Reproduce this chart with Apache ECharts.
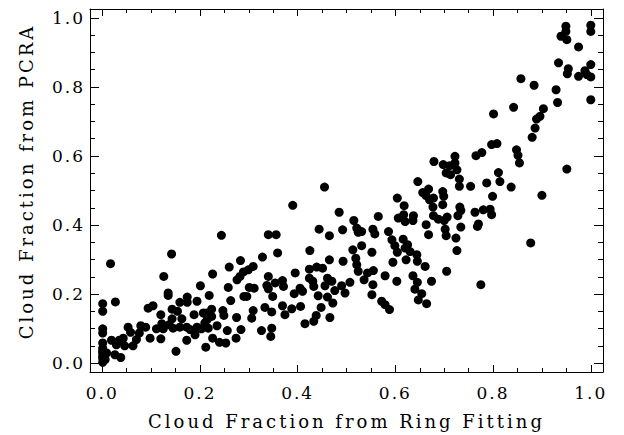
<!DOCTYPE html>
<html>
<head>
<meta charset="utf-8">
<script src="https://cdn.jsdelivr.net/npm/echarts@6/dist/echarts.min.js"></script>
<style>
html, body { margin: 0; padding: 0; background: #fff; }
#chart { width: 624px; height: 435px; }
#chart text { letter-spacing: 2px !important; }
#chart text[style*="18px"] { letter-spacing: 3px !important; }
</style>
</head>
<body>
<div id="chart"></div>
<script>
// [ring fitting, PCRA] pairs, grouped by ring-fitting cloud fraction
const lowCloud = [
  [0.142,0.316],[0.017,0.288],[0.126,0.251],[0.226,0.258],[0.135,0.203],[0.135,0.196],[0.201,0.224],[0.219,0.196],
  [0.001,0.172],[0.001,0.150],[0.027,0.177],[0.094,0.159],[0.104,0.166],[0.159,0.176],[0.174,0.191],[0.174,0.176],
  [0.194,0.179],[0.120,0.140],[0.143,0.156],[0.154,0.150],[0.163,0.128],[0.143,0.128],[0.188,0.140],[0.207,0.145],
  [0.224,0.156],[0.224,0.135],[0.215,0.126],[0.001,0.099],[0.001,0.087],[0.001,0.058],[0.001,0.043],[0.001,0.029],
  [0.001,0.014],[0.001,0.002],[0.009,0.029],[0.019,0.066],[0.029,0.053],[0.026,0.024],[0.038,0.016],[0.035,0.066],
  [0.043,0.072],[0.046,0.050],[0.053,0.104],[0.058,0.089],[0.063,0.050],[0.070,0.068],[0.076,0.087],[0.079,0.108],
  [0.089,0.104],[0.098,0.072],[0.111,0.099],[0.120,0.070],[0.125,0.099],[0.122,0.114],[0.137,0.111],[0.145,0.101],
  [0.151,0.034],[0.159,0.104],[0.173,0.104],[0.173,0.066],[0.180,0.097],[0.190,0.082],[0.194,0.104],[0.203,0.099],
  [0.210,0.116],[0.212,0.046],[0.217,0.101],[0.226,0.072],[0.235,0.108],[0.240,0.060],[0.001,0.035],[0.001,0.020],
  [0.003,0.008],[0.006,0.010],[0.244,0.370],[0.214,0.145],[0.247,0.152],[0.249,0.138]
];
const lowMidCloud = [
  [0.340,0.372],[0.356,0.372],[0.359,0.319],[0.328,0.307],[0.283,0.297],[0.260,0.278],[0.309,0.280],[0.299,0.270],
  [0.289,0.264],[0.282,0.251],[0.276,0.241],[0.258,0.219],[0.340,0.251],[0.301,0.219],[0.311,0.217],[0.296,0.193],
  [0.290,0.193],[0.337,0.225],[0.354,0.232],[0.369,0.239],[0.371,0.222],[0.340,0.215],[0.349,0.193],[0.263,0.181],
  [0.275,0.132],[0.309,0.152],[0.306,0.130],[0.333,0.161],[0.347,0.148],[0.369,0.166],[0.374,0.140],[0.256,0.094],
  [0.284,0.097],[0.326,0.094],[0.347,0.101],[0.345,0.077],[0.274,0.072],[0.253,0.058]
];
const midCloud = [
  [0.455,0.510],[0.390,0.457],[0.485,0.437],[0.565,0.425],[0.515,0.413],[0.521,0.391],[0.524,0.379],[0.531,0.381],
  [0.554,0.388],[0.558,0.374],[0.444,0.388],[0.465,0.369],[0.492,0.386],[0.586,0.381],[0.425,0.326],[0.513,0.328],
  [0.531,0.340],[0.552,0.321],[0.519,0.304],[0.521,0.285],[0.524,0.266],[0.465,0.299],[0.493,0.295],[0.424,0.272],
  [0.439,0.278],[0.451,0.275],[0.395,0.261],[0.424,0.246],[0.431,0.237],[0.433,0.222],[0.461,0.246],[0.470,0.237],
  [0.456,0.224],[0.476,0.210],[0.490,0.224],[0.497,0.203],[0.507,0.234],[0.536,0.241],[0.543,0.261],[0.555,0.268],
  [0.554,0.227],[0.552,0.198],[0.579,0.253],[0.405,0.217],[0.410,0.208],[0.393,0.201],[0.442,0.195],[0.461,0.191],
  [0.472,0.174],[0.388,0.157],[0.406,0.164],[0.448,0.161],[0.572,0.179],[0.579,0.169],[0.588,0.155],[0.438,0.138],
  [0.433,0.121],[0.415,0.114],[0.466,0.132]
];
const midHighCloud = [
  [0.797,0.633],[0.808,0.636],[0.777,0.610],[0.765,0.601],[0.722,0.599],[0.679,0.584],[0.698,0.575],[0.711,0.572],
  [0.722,0.580],[0.726,0.560],[0.704,0.551],[0.713,0.546],[0.731,0.533],[0.731,0.512],[0.754,0.512],[0.787,0.522],
  [0.811,0.552],[0.814,0.526],[0.799,0.483],[0.646,0.526],[0.656,0.494],[0.668,0.504],[0.663,0.485],[0.670,0.473],
  [0.678,0.478],[0.697,0.497],[0.699,0.483],[0.677,0.452],[0.697,0.459],[0.604,0.478],[0.618,0.456],[0.617,0.430],
  [0.606,0.420],[0.620,0.410],[0.637,0.427],[0.636,0.413],[0.678,0.427],[0.688,0.417],[0.700,0.413],[0.706,0.423],
  [0.732,0.452],[0.734,0.442],[0.728,0.427],[0.763,0.437],[0.780,0.444],[0.794,0.446],[0.797,0.430],[0.770,0.403],
  [0.768,0.396],[0.663,0.401],[0.668,0.372],[0.702,0.388],[0.704,0.369],[0.734,0.394],[0.724,0.362],[0.726,0.326],
  [0.593,0.357],[0.599,0.340],[0.616,0.359],[0.625,0.343],[0.620,0.333],[0.630,0.323],[0.604,0.321],[0.644,0.314],
  [0.645,0.295],[0.622,0.299],[0.595,0.292],[0.661,0.280],[0.705,0.266],[0.636,0.253],[0.603,0.237],[0.645,0.234],
  [0.640,0.214],[0.674,0.237],[0.654,0.201],[0.647,0.183],[0.664,0.172],[0.775,0.227]
];
const highCloud = [
  [0.949,0.976],[0.949,0.961],[1.000,0.979],[1.000,0.961],[0.939,0.947],[0.951,0.937],[0.975,0.916],[0.934,0.870],
  [0.954,0.853],[0.952,0.838],[1.000,0.865],[0.988,0.847],[0.992,0.836],[1.000,0.829],[0.975,0.831],[0.857,0.824],
  [0.884,0.805],[0.929,0.792],[0.932,0.755],[1.000,0.763],[0.842,0.741],[0.801,0.722],[0.903,0.737],[0.896,0.715],
  [0.889,0.707],[0.886,0.681],[0.880,0.654],[0.848,0.618],[0.851,0.602],[0.854,0.580],[0.951,0.562],[0.837,0.510],
  [0.900,0.486],[0.877,0.348]
];
const majorTicks = [0, 0.2, 0.4, 0.6, 0.8, 1.0];
const minorTicks = [0, 0.05, 0.1, 0.15, 0.2, 0.25, 0.3, 0.35, 0.4, 0.45, 0.5,
  0.55, 0.6, 0.65, 0.7, 0.75, 0.8, 0.85, 0.9, 0.95, 1.0];

const points = lowCloud.concat(lowMidCloud, midCloud, midHighCloud, highCloud);
const font = 'DejaVu Serif';
const xRange = [-0.025, 1.025];
const yRange = [-0.026, 1.026];

// one frame axis per side, plus a second overlaid grid that only carries the short ticks
function frameAxis (pos, range, grid, ticks, len, extra) {
  return Object.assign({
    type: 'value', gridIndex: grid, position: pos, min: range[0], max: range[1],
    axisLine: { show: grid === 0, onZero: false, lineStyle: { color: '#000', width: 1 } },
    axisTick: { show: true, inside: true, length: len, customValues: ticks, lineStyle: { color: '#000', width: 1 } },
    axisLabel: { show: false },
    splitLine: { show: false }
  }, extra || {})
}
const tickLabel = { show: true, customValues: majorTicks, color: '#000', fontFamily: font, fontSize: 17,
  formatter: v => v.toFixed(1) };
const nameStyle = { color: '#000', fontFamily: font, fontSize: 18 };

const myChart = echarts.init(document.getElementById('chart'), null, { renderer: 'svg' });
myChart.setOption({
  animation: false,
  backgroundColor: '#fff',
  grid: [
    { left: 90, right: 21, top: 9, bottom: 63 },
    { left: 90, right: 21, top: 9, bottom: 63 }
  ],
  xAxis: [
    frameAxis('bottom', xRange, 0, majorTicks, 7, {
      axisLabel: Object.assign({ margin: 12 }, tickLabel),
      name: 'Cloud Fraction from Ring Fitting', nameLocation: 'middle', nameGap: 40, nameTextStyle: nameStyle
    }),
    frameAxis('top', xRange, 0, majorTicks, 7),
    frameAxis('bottom', xRange, 1, minorTicks, 4),
    frameAxis('top', xRange, 1, minorTicks, 4)
  ],
  yAxis: [
    frameAxis('left', yRange, 0, majorTicks, 9, {
      axisLabel: Object.assign({ margin: 5 }, tickLabel),
      name: 'Cloud Fraction from PCRA', nameLocation: 'middle', nameGap: 55,
      nameTextStyle: Object.assign({ padding: [0, 0, 0, 18] }, nameStyle)
    }),
    frameAxis('right', yRange, 0, majorTicks, 9),
    frameAxis('left', yRange, 1, minorTicks, 5),
    frameAxis('right', yRange, 1, minorTicks, 5)
  ],
  series: [{
    type: 'scatter',
    xAxisIndex: 0,
    yAxisIndex: 0,
    data: points,
    symbol: 'circle',
    symbolSize: 9,
    itemStyle: { color: '#000', opacity: 1 },
    silent: true
  }]
})
</script>
</body>
</html>
